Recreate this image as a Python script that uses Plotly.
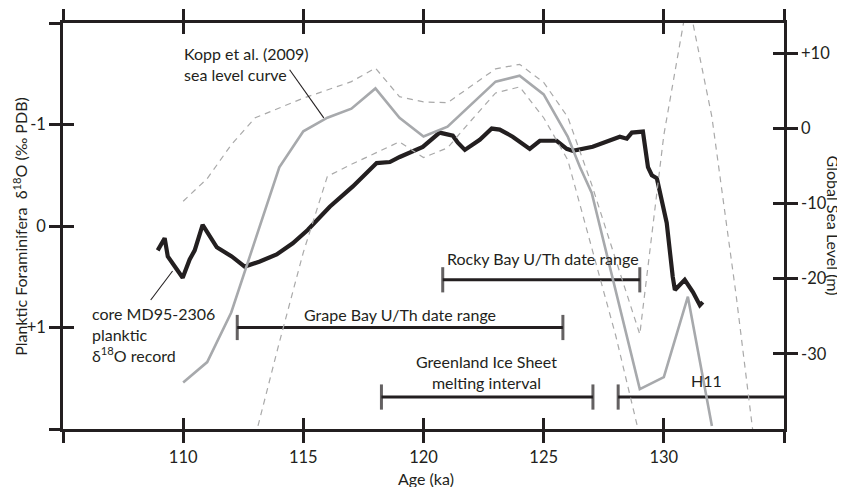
import plotly.graph_objects as go

# ---------------- data ----------------
# planktic d18O record, core MD95-2306 (left axis, per mil PDB)
d18o_age = [108.94, 109.23, 109.36, 109.98, 110.27, 110.48, 110.81, 111.40, 112.02, 112.56,
            113.19, 113.89, 114.56, 115.18, 116.10, 117.06, 118.05, 118.60, 119.01, 119.97,
            120.67, 121.22, 121.43, 121.72, 122.34, 122.84, 123.17, 123.71, 124.42, 124.84,
            125.54, 125.96, 126.21, 127.04, 128.17, 128.46, 128.67, 129.13, 129.34, 129.50,
            129.71, 130.12, 130.37, 130.46, 130.87, 131.21, 131.50, 131.62]
d18o_val = [0.24, 0.12, 0.30, 0.51, 0.33, 0.24, -0.01, 0.21, 0.30, 0.40,
            0.35, 0.28, 0.17, 0.04, -0.19, -0.39, -0.62, -0.63, -0.68, -0.78,
            -0.92, -0.89, -0.82, -0.75, -0.85, -0.96, -0.95, -0.88, -0.76, -0.84,
            -0.84, -0.76, -0.74, -0.78, -0.88, -0.86, -0.92, -0.93, -0.58, -0.50,
            -0.47, -0.03, 0.50, 0.63, 0.53, 0.65, 0.78, 0.75]

# Kopp et al. (2009) sea level curve (right axis, m)
kopp_age = [110, 111, 112, 114, 115, 116, 117, 118, 119, 120, 121, 123, 124, 125, 126, 126.5, 127, 129, 130, 131, 132]
kopp_sl = [-33.8, -31.1, -24.5, -5.2, -0.4, 1.4, 2.6, 5.3, 1.4, -1.1, 0.2, 6.2, 7.0, 4.5, -1.1, -5.1, -8.6, -34.7, -33.1, -22.4, -39.6]

# Kopp envelope (dashed)
upper_age = [110, 111, 112, 113, 114, 115, 117, 118, 119, 120, 121, 122, 123, 124, 125, 126, 127, 128, 129, 130, 131, 132, 133, 134]
upper_sl = [-9.7, -6.7, -2.2, 1.4, 2.7, 4.0, 6.2, 8.0, 4.2, 3.5, 3.4, 5.7, 7.9, 8.5, 6.1, 1.5, -7.5, -17.5, -27.4, -0.9, 17.3, 1.5, -22.0, -48.0]
lower_age = [113, 114, 115, 116, 117, 118, 119, 120, 121, 122, 123, 124, 125, 126, 127, 128, 129]
lower_sl = [-41.0, -28.5, -16.5, -6.4, -4.8, -3.3, -1.8, -3.9, -2.6, 1.1, 4.7, 5.5, 1.4, -4.2, -15.9, -27.6, -41.0]

# date ranges (ka)
rocky_bay = [120.8, 129.0]
grape_bay = [112.25, 125.8]
greenland = [118.25, 127.05]
h11 = [128.1, 135.0]

# axes
age_ticks = [105, 110, 115, 120, 125, 130, 135]
age_labels = ["", "110", "115", "120", "125", "130", ""]
d18o_ticks = [-2, -1, 0, 1, 2]
d18o_labels = ["", "-1", "0", "+1", ""]
sl_ticks = [10, 0, -10, -20, -30]
sl_labels = ["+10", "0", "-10", "-20", "-30"]

# ---------------- style ----------------
INK = "#231f20"
GREY = "#a7a9ac"
DASH = "#a9a9a9"
FONT = "Lato"

fig = go.Figure()

fig.add_trace(go.Scatter(x=upper_age, y=upper_sl, yaxis="y2", mode="lines",
                         line=dict(color=DASH, width=1.2, dash="6px,5px"), hoverinfo="skip"))
fig.add_trace(go.Scatter(x=lower_age, y=lower_sl, yaxis="y2", mode="lines",
                         line=dict(color=DASH, width=1.2, dash="6px,5px"), hoverinfo="skip"))
fig.add_trace(go.Scatter(x=kopp_age, y=kopp_sl, yaxis="y2", mode="lines",
                         line=dict(color=GREY, width=2.6), hoverinfo="skip"))
fig.add_trace(go.Scatter(x=d18o_age, y=d18o_val, yaxis="y", mode="lines",
                         line=dict(color=INK, width=4.2), hoverinfo="skip"))

def bar(xs, yv, caps=("line-ns", "line-ns")):
    fig.add_trace(go.Scatter(x=xs, y=[yv, yv], yaxis="y", mode="lines+markers",
                             line=dict(color=INK, width=3),
                             marker=dict(symbol=list(caps), size=[18 if c != "circle" else 0 for c in caps],
                                         line=dict(color=INK, width=3), color=INK),
                             hoverinfo="skip"))

bar(rocky_bay, 0.53)
bar(grape_bay, 1.0)
bar(greenland, 1.685)
bar(h11, 1.685, caps=("line-ns", "circle"))

# empty traces to activate the overlay axes (inward half of crossing ticks)
fig.add_trace(go.Scatter(x=[], y=[], xaxis="x3", yaxis="y3", hoverinfo="skip"))
fig.add_trace(go.Scatter(x=[], y=[], xaxis="x3", yaxis="y4", hoverinfo="skip"))

tickfont = dict(family=FONT, size=16.5, color=INK)
common = dict(showgrid=False, zeroline=False, ticklen=11, tickwidth=3, tickcolor=INK, automargin=False)

# the page body adds an 8px offset, so the figure is 8px smaller than the window
fig.update_layout(
    width=837, height=479,
    margin=dict(l=55, r=61, t=15, b=58, autoexpand=False),
    paper_bgcolor="white", plot_bgcolor="white",
    showlegend=False,
    font=dict(family=FONT, size=16, color=INK),
    xaxis=dict(range=[105, 135], tickvals=age_ticks, ticktext=age_labels, ticks="outside",
               showline=True, linecolor=INK, linewidth=2.5, mirror="allticks",
               tickfont=tickfont, **common),
    xaxis3=dict(range=[105, 135], overlaying="x", anchor="y3", tickvals=age_ticks, ticks="inside",
                showticklabels=False, showline=False, mirror="allticks", **common),
    yaxis=dict(range=[2, -2], tickvals=d18o_ticks, ticktext=d18o_labels, ticks="outside",
               showline=True, linecolor=INK, linewidth=2.5, tickfont=tickfont, **common),
    yaxis3=dict(range=[2, -2], overlaying="y", anchor="x3", tickvals=d18o_ticks, ticks="inside",
                showticklabels=False, showline=False, **common),
    yaxis2=dict(range=[-40, 14], overlaying="y", side="right", anchor="x", tickvals=sl_ticks,
                ticktext=sl_labels, ticks="outside", showline=True, linecolor=INK, linewidth=2.5,
                tickfont=tickfont, **common),
    yaxis4=dict(range=[-40, 14], overlaying="y", side="right", anchor="x3", tickvals=sl_ticks,
                ticks="inside", showticklabels=False, showline=False, **common),
)

ann = dict(showarrow=False, font=dict(family=FONT, size=16, color=INK))
fig.add_annotation(x=109.95, y=-1.60, xref="x", yref="y", text="Kopp et al. (2009)<br>sea level curve",
                   xanchor="left", yanchor="middle", align="left", **ann)
fig.add_annotation(x=106.11, y=1.072, xref="x", yref="y", text="core MD95-2306<br>planktic<br>δ<sup>18</sup>O record",
                   xanchor="left", yanchor="middle", align="left", **ann)
fig.add_annotation(x=120.88, y=0.325, xref="x", yref="y", text="Rocky Bay U/Th date range",
                   xanchor="left", yanchor="middle", **ann)
fig.add_annotation(x=114.93, y=0.867, xref="x", yref="y", text="Grape Bay U/Th date range",
                   xanchor="left", yanchor="middle", **ann)
fig.add_annotation(x=122.63, y=1.438, xref="x", yref="y", text="Greenland Ice Sheet<br>melting interval",
                   xanchor="center", yanchor="middle", align="center", **ann)
fig.add_annotation(x=131.79, y=1.527, xref="x", yref="y", text="H11",
                   xanchor="center", yanchor="middle", **ann)

# axis titles
fig.add_annotation(x=-0.060, y=0.5, xref="paper", yref="paper", textangle=-90,
                   text="Planktic Foraminifera  δ<sup>18</sup>O (‰ PDB)", xanchor="center", yanchor="middle", **ann)
fig.add_annotation(x=1.0700, y=0.5, xref="paper", yref="paper", textangle=90,
                   text="Global Sea Level (m)", xanchor="center", yanchor="middle", **ann)
fig.add_annotation(x=0.504, y=-0.121, xref="paper", yref="paper",
                   text="Age (ka)", xanchor="center", yanchor="middle", **ann)

# leader lines
fig.add_shape(type="line", xref="x", yref="y", x0=114.43, y0=-1.539, x1=115.85, y1=-1.065,
              line=dict(color=INK, width=1.1))
fig.add_shape(type="line", xref="x", yref="y", x0=108.65, y0=0.729, x1=109.56, y1=0.443,
              line=dict(color=INK, width=1.1))

fig.write_html("out.html")
